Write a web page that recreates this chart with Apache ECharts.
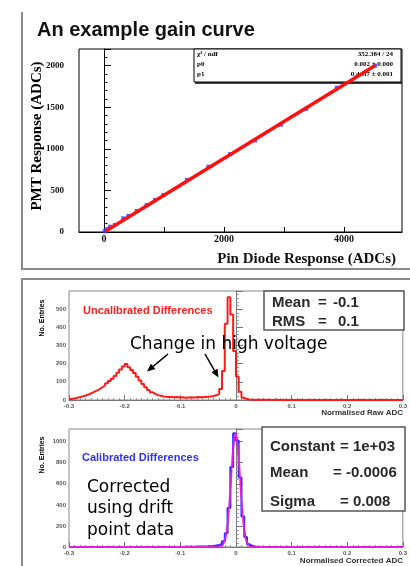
<!DOCTYPE html>
<html>
<head>
<meta charset="utf-8">
<script src="https://cdn.jsdelivr.net/npm/echarts@6/dist/echarts.min.js"></script>
<style>
html, body { margin: 0; padding: 0; background: #fff; }
#main { width: 410px; height: 566px; }
</style>
</head>
<body>
<div id="main"></div>
<script>
// gain curve: pin diode vs PMT response
var pinDiode = [10, 30, 60, 100, 180, 320, 405, 545, 710, 850, 990, 1380, 1740, 2100, 2520, 2950, 3370, 3880, 4520];
var pmtResp  = [8, 20, 35, 64, 84, 165, 193, 253, 325, 386, 446, 627, 787, 936, 1100, 1290, 1480, 1735, 2000];
var fitPin = [30, 4520];
var fitPmt = [12, 2002];

// histograms, 0.005 wide bins from -0.3 to 0.3
var binLow = -0.3, binWidth = 0.005;
var rawCounts = [
  6, 9, 12, 16, 20, 25, 30, 37, 45, 52, 60, 70, 80, 92, 104, 117, 132, 150, 168, 185,
  198, 180, 165, 148, 128, 108, 88, 70, 55, 43, 34, 27, 23, 20, 18, 17, 16, 15, 16, 14,
  15, 13, 14, 15, 14, 15, 16, 15, 17, 18, 19, 22, 26, 34, 60, 160, 420, 565, 470, 270,
  130, 45, 12, 5, 3, 2, 2, 1, 2, 1, 1, 1, 0, 1, 1, 0, 1, 0, 0, 1,
  0, 0, 1, 0, 0, 0, 1, 0, 0, 0, 0, 1, 0, 0, 0, 0, 0, 1, 0, 0,
  0, 0, 0, 0, 1, 0, 0, 0, 0, 0, 0, 0, 1, 0, 0, 0, 0, 0, 0, 0
];
var corrCounts = [
  0, 1, 0, 0, 1, 0, 0, 1, 0, 0, 1, 0, 0, 1, 0, 0, 0, 1, 0, 0,
  0, 1, 0, 0, 1, 0, 0, 1, 0, 1, 0, 1, 0, 1, 1, 0, 1, 1, 1, 2,
  1, 2, 2, 2, 3, 3, 4, 4, 5, 6, 8, 10, 14, 20, 30, 55, 130, 370, 760, 1080,
  1010, 660, 290, 95, 25, 9, 4, 2, 1, 1, 0, 1, 0, 0, 1, 0, 0, 0, 0, 1,
  0, 0, 0, 0, 1, 0, 0, 0, 0, 0, 0, 0, 0, 1, 0, 0, 0, 0, 0, 0,
  0, 0, 0, 0, 0, 0, 0, 1, 0, 0, 0, 0, 0, 0, 0, 0, 0, 0, 0, 0
];
// gaussian fit drawn over the corrected histogram
var gausX = [-0.3, -0.04, -0.03, -0.025, -0.02, -0.0175, -0.015, -0.0125, -0.01, -0.0075, -0.005, -0.0025, 0,
             0.0025, 0.005, 0.0075, 0.01, 0.0125, 0.015, 0.0175, 0.02, 0.025, 0.03, 0.04, 0.3];
var gausY = [0, 0, 1, 10, 57, 116, 214, 357, 541, 745, 929, 1050, 1077,
             1002, 845, 647, 449, 283, 161, 84, 39, 7, 1, 0, 0];

function histData(counts) {
  var d = counts.map(function (c, i) { return [binLow + i * binWidth, c]; });
  d.push([binLow + counts.length * binWidth, counts[counts.length - 1]]);
  return d;
}

var chart = echarts.init(document.getElementById('main'), null, { renderer: 'canvas' });

var plain = function (v) { return String(v); };
var smallLabel = { fontSize: 6, fontWeight: 'bold', color: '#555', fontFamily: 'Liberation Sans' };
function histX(idx) {
  return {
    type: 'value', gridIndex: idx, min: -0.3, max: 0.3, interval: 0.1,
    axisLine: { lineStyle: { color: '#777' } },
    axisTick: { inside: true, length: 5, lineStyle: { color: '#777' } },
    minorTick: { show: true, splitNumber: 10, length: 2, lineStyle: { color: '#999' } },
    splitLine: { show: false },
    axisLabel: Object.assign({ margin: 3, formatter: function (v) { return v === 0 ? '0' : String(+v.toFixed(1)); } }, smallLabel)
  };
}
function histY(idx, max, step) {
  return {
    type: 'value', gridIndex: idx, min: 0, max: max, interval: step,
    axisLine: { lineStyle: { color: '#777' } },
    axisTick: { inside: true, length: 7, lineStyle: { color: '#777' } },
    minorTick: { show: true, splitNumber: 5, length: 3, lineStyle: { color: '#999' } },
    splitLine: { show: false },
    axisLabel: Object.assign({ margin: 3, showMaxLabel: false, formatter: plain }, smallLabel)
  };
}

function txt(x, y, s, font, color, align, extra) {
  return Object.assign({
    type: 'text', x: x, y: y, z: 10,
    style: { text: s, font: font, fill: color || '#000', align: align || 'left', verticalAlign: 'middle' }
  }, extra || {});
}
function rotTxt(x, y, s, font) {
  return {
    type: 'text', x: x, y: y, rotation: Math.PI / 2, z: 10,
    style: { text: s, font: font, fill: '#000', align: 'center', verticalAlign: 'middle' }
  };
}
function arrow(x1, y1, x2, y2) {
  var dx = x2 - x1, dy = y2 - y1, len = Math.sqrt(dx * dx + dy * dy);
  var ux = dx / len, uy = dy / len;
  var bx = x2 - 8 * ux, by = y2 - 8 * uy;
  return [
    { type: 'line', z: 10, shape: { x1: x1, y1: y1, x2: bx, y2: by }, style: { stroke: '#000', lineWidth: 1.5 } },
    { type: 'polygon', z: 10, shape: { points: [[x2, y2], [bx + 3.5 * uy, by - 3.5 * ux], [bx - 3.5 * uy, by + 3.5 * ux]] }, style: { fill: '#000' } }
  ];
}

var serifB = 'bold 14px "Liberation Serif"';
var statFont = 'bold 15px "Liberation Sans"';
var tiny = 'bold 7px "Liberation Serif"';

var graphics = [
  // panel frames
  { type: 'polyline', shape: { points: [[22, 12], [22, 269], [412, 269]] }, style: { stroke: '#8a8a8a', lineWidth: 2, fill: null } },
  { type: 'rect', shape: { x: 22, y: 279, width: 400, height: 300 }, style: { stroke: '#8a8a8a', lineWidth: 2, fill: null } },
  txt(37, 30, 'An example gain curve', 'bold 20px "Liberation Sans"', '#111'),
  rotTxt(37, 136, 'PMT Response (ADCs)', 'bold 15px "Liberation Serif"'),
  txt(396, 259, 'Pin Diode Response (ADCs)', 'bold 15px "Liberation Serif"', '#111', 'right'),
  // fit box
  { type: 'rect', z: 1, shape: { x: 194, y: 49, width: 207, height: 33 }, style: { fill: '#fff', stroke: '#000', lineWidth: 1 } },
  { type: 'line', z: 1, shape: { x1: 195, y1: 83, x2: 402, y2: 83 }, style: { stroke: '#000', lineWidth: 1.5 } },
  txt(197, 54, 'χ² / ndf', tiny, '#000', 'left', { z: 1 }),
  txt(393, 54, '352.384 / 24', tiny, '#000', 'right', { z: 1 }),
  txt(197, 64, 'p0', tiny, '#000', 'left', { z: 1 }),
  txt(393, 64, '0.002 ± 0.000', tiny, '#000', 'right', { z: 1 }),
  txt(197, 74, 'p1', tiny, '#000', 'left', { z: 1 }),
  txt(393, 74, '0.4437 ± 0.001', tiny, '#000', 'right', { z: 1 }),
  // middle panel annotations
  txt(83, 311, 'Uncalibrated Differences', 'bold 11px "Liberation Sans"', '#ff2020'),
  txt(130, 345, 'Change in high voltage', '17px "DejaVu Sans"', '#000'),
  rotTxt(42, 318, 'No. Entries', 'bold 7px "Liberation Sans"'),
  txt(403, 413, 'Normalised Raw ADC', 'bold 8px "Liberation Sans"', '#333', 'right'),
  { type: 'rect', z: 5, shape: { x: 264, y: 291, width: 140, height: 39 }, style: { fill: '#fff', stroke: '#555', lineWidth: 1.5 } },
  txt(272, 302.5, 'Mean', statFont, '#2a2a2a'),
  txt(318, 302.5, '=', statFont, '#2a2a2a'),
  txt(333, 302.5, '-0.1', statFont, '#2a2a2a'),
  txt(272, 322, 'RMS', statFont, '#2a2a2a'),
  txt(318, 322, '=', statFont, '#2a2a2a'),
  txt(338, 322, '0.1', statFont, '#2a2a2a'),
  // bottom panel annotations
  txt(82, 457.5, 'Calibrated Differences', 'bold 11px "Liberation Sans"', '#3030ff'),
  txt(87, 487.5, 'Corrected', '17px "DejaVu Sans"', '#000'),
  txt(87, 509, 'using drift', '17px "DejaVu Sans"', '#000'),
  txt(87, 530.5, 'point data', '17px "DejaVu Sans"', '#000'),
  rotTxt(42, 455, 'No. Entries', 'bold 7px "Liberation Sans"'),
  txt(403, 561, 'Normalised Corrected ADC', 'bold 8px "Liberation Sans"', '#333', 'right'),
  { type: 'rect', z: 5, shape: { x: 262, y: 427, width: 143, height: 84 }, style: { fill: '#fff', stroke: '#555', lineWidth: 1.5 } },
  txt(270, 447, 'Constant', statFont, '#2a2a2a'),
  txt(340, 447, '= 1e+03', statFont, '#2a2a2a'),
  txt(270, 472.5, 'Mean', statFont, '#2a2a2a'),
  txt(333, 472.5, '= -0.0006', statFont, '#2a2a2a'),
  txt(270, 501.5, 'Sigma', statFont, '#2a2a2a'),
  txt(340, 501.5, '= 0.008', statFont, '#2a2a2a')
].concat(arrow(168, 354, 147, 371.5), arrow(205, 354, 218.5, 377.5));

var option = {
  animation: false,
  backgroundColor: '#fff',
  grid: [
    { left: 79, top: 49, width: 323, height: 183, show: true, borderColor: '#000', borderWidth: 1 },
    { left: 69, top: 291, width: 334, height: 109, show: true, borderColor: '#888', borderWidth: 1 },
    { left: 69, top: 429, width: 334, height: 118, show: true, borderColor: '#888', borderWidth: 1 }
  ],
  xAxis: [
    {
      type: 'value', gridIndex: 0, min: -417, max: 4967,
      axisLine: { lineStyle: { color: '#000' } },
      axisTick: { inside: true, length: 5, customValues: [0, 1000, 2000, 3000, 4000], lineStyle: { color: '#000' } },
      splitLine: { show: false },
      axisLabel: { customValues: [0, 2000, 4000], formatter: plain, margin: 2, fontSize: 10, fontWeight: 'bold', fontFamily: 'Liberation Serif', color: '#111' }
    },
    histX(1), histX(2)
  ],
  yAxis: [
    {
      type: 'value', gridIndex: 0, min: 0, max: 2200, interval: 500,
      axisLine: { lineStyle: { color: '#000' } },
      axisTick: { inside: true, length: 7, lineStyle: { color: '#000' } },
      minorTick: { show: true, splitNumber: 5, length: 3.5, lineStyle: { color: '#222' } },
      splitLine: { show: false },
      axisLabel: { margin: 15, showMaxLabel: false, formatter: plain, fontSize: 9, fontWeight: 'bold', fontFamily: 'Liberation Serif', color: '#111' }
    },
    histY(1, 600, 100), histY(2, 1120, 200)
  ],
  series: [
    {
      type: 'scatter', xAxisIndex: 0, yAxisIndex: 0, symbol: 'rect', symbolSize: [4, 4],
      itemStyle: { color: '#3a3aff' },
      data: pinDiode.map(function (x, i) { return [x, pmtResp[i]]; })
    },
    {
      type: 'line', xAxisIndex: 0, yAxisIndex: 0, showSymbol: false, z: 3,
      lineStyle: { color: '#ff1010', width: 3.5 },
      data: fitPin.map(function (x, i) { return [x, fitPmt[i]]; })
    },
    {
      type: 'line', xAxisIndex: 1, yAxisIndex: 1, step: 'end', showSymbol: false,
      lineStyle: { color: '#ff1a1a', width: 2 },
      data: histData(rawCounts)
    },
    {
      type: 'line', xAxisIndex: 2, yAxisIndex: 2, step: 'end', showSymbol: false,
      lineStyle: { color: '#2a2aff', width: 2 },
      data: histData(corrCounts)
    },
    {
      type: 'line', xAxisIndex: 2, yAxisIndex: 2, showSymbol: false, smooth: 0.3, smoothMonotone: 'x',
      lineStyle: { color: '#e020e0', width: 2 },
      data: gausX.map(function (x, i) { return [x, gausY[i]]; })
    }
  ],
  graphic: graphics
};
chart.setOption(option);
</script>
</body>
</html>
